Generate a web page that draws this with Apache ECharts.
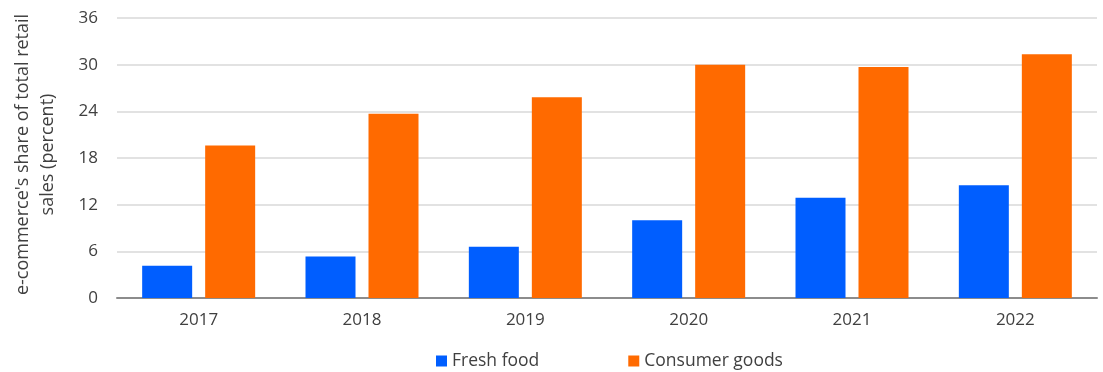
<!DOCTYPE html>
<html>
<head>
<meta charset="utf-8">
<script src="https://cdn.jsdelivr.net/npm/echarts@6/dist/echarts.min.js"></script>
<style>
  html, body { margin: 0; padding: 0; background: #fff; }
  #chart { width: 1103px; height: 372px; }
</style>
</head>
<body>
<div id="chart"></div>
<script>
// Years on the category axis
const years = ['2017', '2018', '2019', '2020', '2021', '2022'];
// e-commerce share of total retail sales, percent
const freshFood = [4.15, 5.35, 6.6, 10.0, 12.9, 14.5];
const consumerGoods = [19.6, 23.7, 25.8, 30.0, 29.7, 31.35];
const seriesNames = ['Fresh food', 'Consumer goods'];
const yAxisTitle = "e-commerce's share of total retail\nsales (percent)";

const FONT = '"Open Sans", "Noto Sans", sans-serif';
const TEXT = '#404040';

const chart = echarts.init(document.getElementById('chart'), null, { renderer: 'canvas' });
chart.setOption({
  animation: false,
  textStyle: { fontFamily: FONT },
  grid: { left: 117, right: 6, top: 18, bottom: 74, containLabel: false, outerBoundsMode: 'none' },
  legend: {
    left: 431,
    top: 347,
    icon: 'rect',
    itemWidth: 11,
    itemHeight: 11,
    itemGap: 89,
    textStyle: { fontFamily: FONT, fontSize: 17.5, color: TEXT },
    data: seriesNames
  },
  xAxis: {
    type: 'category',
    data: years,
    axisTick: { show: false },
    axisLine: { show: true, lineStyle: { color: '#8c8c8c', width: 2 } },
    axisLabel: { fontFamily: FONT, fontSize: 17, color: TEXT, margin: 14 }
  },
  yAxis: {
    type: 'value',
    min: 0,
    max: 36,
    interval: 6,
    name: yAxisTitle,
    nameLocation: 'middle',
    nameGap: 57,
    nameRotate: 90,
    nameTextStyle: { fontFamily: FONT, fontSize: 18, color: TEXT, lineHeight: 25, align: 'center', padding: [0, 0, 0, 7] },
    axisLine: { show: false },
    axisTick: { show: false },
    axisLabel: { fontFamily: FONT, fontSize: 17, color: TEXT, margin: 19 },
    splitLine: { lineStyle: { color: '#d9d9d9', width: 1.5 } }
  },
  series: [
    {
      name: seriesNames[0],
      type: 'bar',
      data: freshFood,
      barWidth: 50,
      barGap: '26%',
      itemStyle: { color: '#005EFF' }
    },
    {
      name: seriesNames[1],
      type: 'bar',
      data: consumerGoods,
      barWidth: 50,
      barGap: '26%',
      itemStyle: { color: '#FF6A00' }
    }
  ]
});
</script>
</body>
</html>
